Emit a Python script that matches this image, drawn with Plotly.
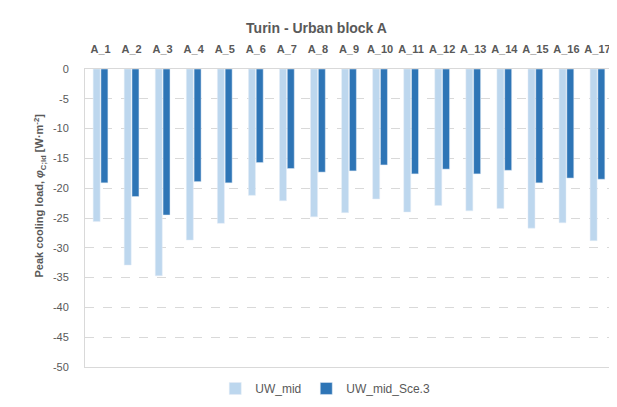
import plotly.graph_objects as go

# 数据
categories = ["A_1", "A_2", "A_3", "A_4", "A_5", "A_6", "A_7", "A_8", "A_9",
              "A_10", "A_11", "A_12", "A_13", "A_14", "A_15", "A_16", "A_17"]
uw_mid = [-25.6, -32.9, -34.7, -28.7, -25.9, -21.2, -22.1, -24.8, -24.1,
          -21.8, -24.0, -22.9, -23.8, -23.4, -26.7, -25.8, -28.8]
uw_mid_sce3 = [-19.1, -21.4, -24.5, -18.9, -19.1, -15.7, -16.7, -17.3, -17.1,
               -16.1, -17.6, -16.8, -17.6, -17.0, -19.1, -18.3, -18.5]
y_ticks = [0, -5, -10, -15, -20, -25, -30, -35, -40, -45, -50]

FONT = "Liberation Sans"
GRAY = "#595959"

fig = go.Figure()
fig.add_trace(go.Bar(x=categories, y=uw_mid, name="UW_mid", marker_color="#BDD7EE"))
fig.add_trace(go.Bar(x=categories, y=uw_mid_sce3, name="UW_mid_Sce.3", marker_color="#2E75B6"))

fig.update_layout(
    width=617, height=407,
    margin=dict(l=77, r=12, t=61, b=39),
    paper_bgcolor="white", plot_bgcolor="white",
    font=dict(family=FONT, size=11, color=GRAY),
    title=dict(text="<b>Turin - Urban block A</b>", x=0.50, xanchor="center",
               y=0.95, yanchor="middle", font=dict(size=14, color=GRAY)),
    barmode="group", bargap=0.5, bargroupgap=0.1,
    legend=dict(orientation="h", x=0.455, xanchor="center", y=-0.072, yanchor="middle",
                font=dict(size=12, color=GRAY), traceorder="normal", itemwidth=30),
    xaxis=dict(side="top", showgrid=False, ticks="", showline=True, mirror=True,
               linecolor="#D9D9D9", linewidth=1, automargin=False,
               ticklabelstandoff=11,
               tickfont=dict(size=11, color=GRAY),
               ticktext=[f"<b>{c}</b>" for c in categories], tickvals=categories),
    yaxis=dict(range=[-50, 0], tickvals=y_ticks, ticktext=[str(v) for v in y_ticks],
               showline=True, mirror=True, automargin=False,
               linecolor="#D9D9D9", linewidth=1, ticks="", ticklabelstandoff=13,
               gridcolor="#D9D9D9", griddash="dash", zeroline=False,
               tickfont=dict(size=11, color=GRAY)),
)

# 纵轴标题（位置比绘图区中心偏上）
fig.add_annotation(
    text="<b>Peak cooling load, <i>φ</i><sub>C;ld</sub> [W·m<sup>-2</sup>]</b>",
    xref="paper", yref="paper", x=-0.086, y=0.574, textangle=-90,
    showarrow=False, xanchor="center", yanchor="middle",
    font=dict(size=11, color=GRAY),
)

fig.write_html("out.html")
